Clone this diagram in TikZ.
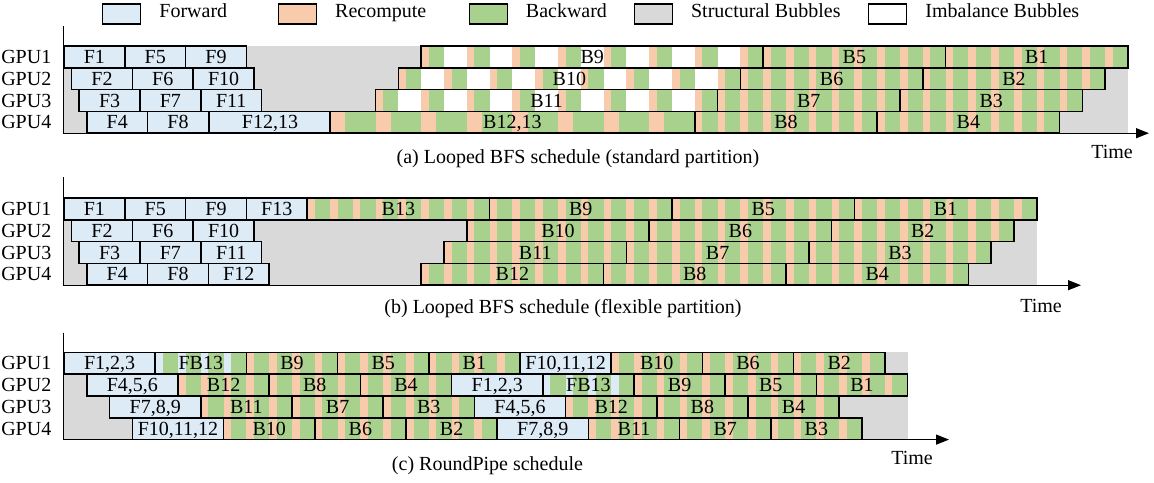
\documentclass[tikz,border=0pt]{standalone}
\usepackage{fontspec}
\setmainfont{Liberation Serif}
\usetikzlibrary{arrows.meta}
\definecolor{fwd}{RGB}{221,235,247}
\definecolor{rcp}{RGB}{248,203,173}
\definecolor{bwd}{RGB}{169,209,142}
\definecolor{sbub}{RGB}{217,217,217}
\newcommand{\bu}{22.8}
\newcommand{\rh}{21.8}
% row top, x start, count, step, width, first colour
\newcommand{\stripes}[6]{%
  \foreach \i in {1,...,#3}{%
    \fill[#6] ({#2+(\i-1)*#4},#1) rectangle ++({#5/3},\rh);
    \fill[bwd] ({#2+(\i-1)*#4+#5/3},#1) rectangle ++({2*#5/3},\rh);
  }}
\begin{document}
\begin{tikzpicture}[x=0.5pt,y=-0.5pt,font=\fontsize{10pt}{12pt}\selectfont,
  blk/.style={draw,line width=0.8pt,inner sep=0pt,minimum height=\rh*0.5pt,text height=6.6pt,text depth=0pt},
  lbl/.style={inner sep=0pt,text height=6.6pt,text depth=0pt},
  legbox/.style={draw,line width=0.7pt,minimum width=19pt,minimum height=10pt,inner sep=0pt},
  axis/.style={line width=0.6pt,-{Triangle[length=6.5pt,width=5pt]}}]
\useasboundingbox (0,0) rectangle (1154,482);
\foreach \f/\x/\t [count=\j] in {fwd/102/Forward,rcp/277.8/Recompute,bwd/468.5/Backward,sbub/633.7/Structural Bubbles,white/868/Imbalance Bubbles} {
  \node[legbox,fill=\f,anchor=north west] (leg\j) at (\x,3.3) {};
  \node[lbl,anchor=base west] (legt\j) at ({\x+57},17.5) {\t};
}
\foreach \pn/\T in {a/46,b/198,c/352.4} {\foreach \r in {1,...,4} {\node[lbl,anchor=east] (\pn-gpu\r) at (51.7,{\T+(\r-0.5)*\rh}) {GPU\r};}}

% (a)
\fill[sbub] (63.3,46) rectangle (1128,133.2);
\foreach \t [count=\j from 0] in {F1,F5,F9} \node[blk,fill=fwd,minimum width=30.4pt] (aF1-\j) at ({94.4+60.8*\j},56.9) {\t};
\foreach \t [count=\j from 0] in {F2,F6,F10} \node[blk,fill=fwd,minimum width=30.4pt] (aF2-\j) at ({102+60.8*\j},78.7) {\t};
\foreach \t [count=\j from 0] in {F3,F7,F11} \node[blk,fill=fwd,minimum width=30.4pt] (aF3-\j) at ({109.6+60.8*\j},100.5) {\t};
\foreach \t [count=\j from 0] in {F4,F8} \node[blk,fill=fwd,minimum width=30.4pt] (aF4-\j) at ({117.2+60.8*\j},122.3) {\t};
\node[blk,fill=fwd,minimum width=60.8pt] (aF4-2) at (270,122.3) {F12,13};
\foreach \T/\xs/\la/\lb/\lc [count=\r] in {46/421.2/B9/B5/B1,67.8/398.4/B10/B6/B2,89.6/375.6/B11/B7/B3} {
  \fill[white] (\xs,\T) rectangle ++(342,\rh);
  \stripes{\T}{\xs}{8}{2*\bu}{\bu}{rcp}
  \stripes{\T}{\xs+342}{16}{\bu}{\bu}{rcp}
  \node[blk,minimum width=171pt] (aB\r-0) at ({\xs+171},{\T+10.9}) {\la};
  \node[blk,minimum width=91.2pt] (aB\r-1) at ({\xs+433.2},{\T+10.9}) {\lb};
  \node[blk,minimum width=91.2pt] (aB\r-2) at ({\xs+615.6},{\T+10.9}) {\lc};
}
\stripes{111.4}{330}{8}{2*\bu}{2*\bu}{rcp}
\stripes{111.4}{694.8}{16}{\bu}{\bu}{rcp}
\node[blk,minimum width=182.4pt] (aB4-0) at (512.4,122.3) {B12,13};
\node[blk,minimum width=91.2pt] (aB4-1) at (786,122.3) {B8};
\node[blk,minimum width=91.2pt] (aB4-2) at (968.4,122.3) {B4};
\coordinate (a-top) at (63.3,26);
\coordinate (a-o) at (63.3,133.2);
\coordinate (a-end) at (1149,133.2);
\draw[axis] (a-top) -- (a-o) -- (a-end);
\node[lbl] (a-time) at (1112,151.7) {Time};
\node[lbl] (a-cap) at (578,157) {(a) Looped BFS schedule (standard partition)};

% (b)
\fill[sbub] (63.3,198) rectangle (1036.8,285.2);
\foreach \y/\x/\lst [count=\r] in {208.9/94.4/{F1,F5,F9,F13},230.7/102/{F2,F6,F10},252.5/109.6/{F3,F7,F11},274.3/117.2/{F4,F8,F12}} {
  \foreach \t [count=\j from 0] in \lst \node[blk,fill=fwd,minimum width=30.4pt] (bF\r-\j) at ({\x+60.8*\j},\y) {\t};
}
\foreach \T/\xs/\n/\lst [count=\r] in {198/307.2/32/{B13,B9,B5,B1},219.8/466.8/24/{B10,B6,B2},241.6/444/24/{B11,B7,B3},263.4/421.2/24/{B12,B8,B4}} {
  \stripes{\T}{\xs}{\n}{\bu}{\bu}{rcp}
  \foreach \t [count=\j from 0] in \lst \node[blk,minimum width=91.2pt] (bB\r-\j) at ({\xs+91.2+182.4*\j},{\T+10.9}) {\t};
}
\coordinate (b-top) at (63.3,177.3);
\coordinate (b-o) at (63.3,285.2);
\coordinate (b-end) at (1081,285.2);
\draw[axis] (b-top) -- (b-o) -- (b-end);
\node[lbl] (b-time) at (1041,305.5) {Time};
\node[lbl] (b-cap) at (563,307) {(b) Looped BFS schedule (flexible partition)};

% (c)
\fill[sbub] (63.3,352.4) rectangle (907.6,439.6);
\foreach \j in {2,3,4,6,7,8} {\stripes{352.4}{64+91.2*\j}{4}{\bu}{\bu}{rcp}}
\stripes{352.4}{155.2}{4}{\bu}{\bu}{fwd}
\foreach \t/\f [count=\j from 0] in {{F1,2,3}/fwd,FB13/none,B9/none,B5/none,B1/none,{F10,11,12}/fwd,B10/none,B6/none,B2/none} \node[blk,fill=\f,minimum width=45.6pt] (c1-\j) at ({109.6+91.2*\j},363.3) {\t};
\foreach \j in {1,2,3,6,7,8} {\stripes{374.2}{86.8+91.2*\j}{4}{\bu}{\bu}{rcp}}
\stripes{374.2}{542.8}{4}{\bu}{\bu}{fwd}
\foreach \t/\f [count=\j from 0] in {{F4,5,6}/fwd,B12/none,B8/none,B4/none,{F1,2,3}/fwd,FB13/none,B9/none,B5/none,B1/none} \node[blk,fill=\f,minimum width=45.6pt] (c2-\j) at ({132.4+91.2*\j},385.1) {\t};
\foreach \j in {1,2,3,5,6,7} {\stripes{396}{109.6+91.2*\j}{4}{\bu}{\bu}{rcp}}
\foreach \t/\f [count=\j from 0] in {{F7,8,9}/fwd,B11/none,B7/none,B3/none,{F4,5,6}/fwd,B12/none,B8/none,B4/none} \node[blk,fill=\f,minimum width=45.6pt] (c3-\j) at ({155.2+91.2*\j},406.9) {\t};
\foreach \j in {1,2,3,5,6,7} {\stripes{417.8}{132.4+91.2*\j}{4}{\bu}{\bu}{rcp}}
\foreach \t/\f [count=\j from 0] in {{F10,11,12}/fwd,B10/none,B6/none,B2/none,{F7,8,9}/fwd,B11/none,B7/none,B3/none} \node[blk,fill=\f,minimum width=45.6pt] (c4-\j) at ({178+91.2*\j},428.7) {\t};
\coordinate (c-top) at (63.3,332.7);
\coordinate (c-o) at (63.3,439.6);
\coordinate (c-end) at (949,439.6);
\draw[axis] (c-top) -- (c-o) -- (c-end);
\node[lbl] (c-time) at (912,458) {Time};
\node[lbl] (c-cap) at (487.5,464) {(c) RoundPipe schedule};
\end{tikzpicture}
\end{document}
